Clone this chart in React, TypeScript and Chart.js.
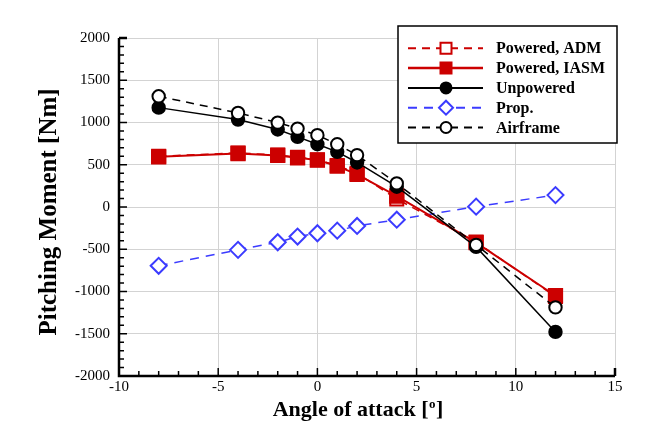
import React, { useEffect, useRef } from "react";
import { Chart, registerables } from "chart.js";

Chart.register(...registerables);

const aoa = [-8, -4, -2, -1, 0, 1, 2, 4, 8, 12];
const poweredADM = [600, 640, 615, 588, 560, 490, 400, 95, -415, -1060];
const poweredIASM = [594, 633, 610, 582, 555, 484, 386, 130, -421, -1050];
const unpowered = [1176, 1035, 917, 830, 743, 653, 527, 240, -472, -1478];
const prop = [-696, -507, -417, -350, -311, -280, -224, -150, 4, 141];
const airframe = [1310, 1113, 999, 928, 850, 743, 614, 280, -448, -1188];

const seriesNames = ["Powered, ADM", "Powered, IASM", "Unpowered", "Prop.", "Airframe"];
const xTitle = "Angle of attack [";
const xTitleSup = "o";
const xTitleEnd = "]";
const yTitle = "Pitching Moment [Nm]";

const RED = "#cc0000";
const BLUE = "#3b3bff";
const BLACK = "#000000";
const SERIF = "'Liberation Serif', 'Times New Roman', serif";

const pts = (ys: number[]) => aoa.map((x, i) => ({ x, y: ys[i] }));

type Sty = { color: string; dash: number[]; width: number; shape: string; fill: string; r: number };
const styles: Sty[] = [
  { color: RED, dash: [8, 6], width: 1.5, shape: "rect", fill: "#ffffff", r: 9.2 },
  { color: RED, dash: [], width: 2, shape: "rect", fill: RED, r: 9.4 },
  { color: BLACK, dash: [], width: 1.5, shape: "circle", fill: BLACK, r: 6.2 },
  { color: BLUE, dash: [9, 7], width: 1.5, shape: "rectRot", fill: "#ffffff", r: 8 },
  { color: BLACK, dash: [8, 6], width: 1.5, shape: "circle", fill: "#ffffff", r: 6.2 },
];

function drawMarker(ctx: CanvasRenderingContext2D, s: Sty, x: number, y: number, r: number) {
  ctx.save();
  ctx.setLineDash([]);
  ctx.beginPath();
  if (s.shape === "circle") {
    ctx.arc(x, y, r, 0, Math.PI * 2);
  } else if (s.shape === "rect") {
    ctx.rect(x - r, y - r, 2 * r, 2 * r);
  } else {
    ctx.moveTo(x - r, y);
    ctx.lineTo(x, y - r);
    ctx.lineTo(x + r, y);
    ctx.lineTo(x, y + r);
    ctx.closePath();
  }
  ctx.fillStyle = s.fill;
  ctx.fill();
  ctx.lineWidth = 2;
  ctx.strokeStyle = s.color;
  ctx.stroke();
  ctx.restore();
}

const customPlugin = {
  id: "custom",
  afterDraw(chart: any) {
    const ctx: CanvasRenderingContext2D = chart.ctx;
    const ca = chart.chartArea;
    const xs = chart.scales.x;
    const ys = chart.scales.y;
    ctx.save();
    // axes
    ctx.strokeStyle = "#000";
    ctx.lineWidth = 2.5;
    ctx.beginPath();
    ctx.moveTo(ca.left, ca.top);
    ctx.lineTo(ca.left, ca.bottom);
    ctx.lineTo(ca.right, ca.bottom);
    ctx.stroke();
    ctx.lineWidth = 1.5;
    ctx.beginPath();
    for (let v = -10; v <= 15; v += 1) {
      const px = xs.getPixelForValue(v);
      const len = v % 5 === 0 ? 8 : 5;
      ctx.moveTo(px, ca.bottom);
      ctx.lineTo(px, ca.bottom - len);
    }
    for (let v = -2000; v <= 2000; v += 100) {
      const py = ys.getPixelForValue(v);
      const len = v % 500 === 0 ? 8 : 5;
      ctx.moveTo(ca.left, py);
      ctx.lineTo(ca.left + len, py);
    }
    ctx.stroke();
    ctx.lineWidth = 2.5;
    ctx.beginPath();
    ctx.moveTo(ca.right, ca.bottom);
    ctx.lineTo(ca.right, ca.bottom - 8);
    ctx.moveTo(ca.left, ca.top);
    ctx.lineTo(ca.left + 8, ca.top);
    ctx.stroke();

    // titles
    ctx.fillStyle = "#000";
    ctx.font = `bold 22px ${SERIF}`;
    ctx.textBaseline = "alphabetic";
    ctx.textAlign = "left";
    const w1 = ctx.measureText(xTitle).width;
    ctx.font = `bold 13px ${SERIF}`;
    const w2 = ctx.measureText(xTitleSup).width;
    ctx.font = `bold 22px ${SERIF}`;
    const w3 = ctx.measureText(xTitleEnd).width;
    const total = w1 + w2 + 1 + w3;
    const cx = 358;
    const base = 416;
    let sx = cx - total / 2;
    ctx.fillText(xTitle, sx, base);
    sx += w1;
    ctx.font = `bold 13px ${SERIF}`;
    ctx.fillText(xTitleSup, sx + 0.5, base - 8);
    sx += w2 + 1;
    ctx.font = `bold 22px ${SERIF}`;
    ctx.fillText(xTitleEnd, sx, base);

    ctx.save();
    ctx.translate(50, 212);
    ctx.rotate(-Math.PI / 2);
    ctx.font = `bold 25px ${SERIF}`;
    ctx.textAlign = "center";
    ctx.textBaseline = "middle";
    ctx.fillText(yTitle, 0, 0);
    ctx.restore();

    // legend
    const bx = ca.right - 217;
    const by = ca.top - 12;
    const bw = 219;
    const bh = 117;
    ctx.fillStyle = "#fff";
    ctx.fillRect(bx, by, bw, bh);
    ctx.strokeStyle = "#000";
    ctx.lineWidth = 1.5;
    ctx.strokeRect(bx, by, bw, bh);
    seriesNames.forEach((name, i) => {
      const s = styles[i];
      const yy = by + 22.3 + i * 19.8;
      const x0 = bx + 10;
      const x1 = bx + 85;
      const mx = bx + 48;
      ctx.save();
      ctx.strokeStyle = s.color;
      ctx.lineWidth = s.width + 0.5;
      ctx.setLineDash(s.dash);
      ctx.beginPath();
      ctx.moveTo(x0, yy);
      ctx.lineTo(x1, yy);
      ctx.stroke();
      ctx.restore();
      const lr = s.shape === "rectRot" ? 7 : s.shape === "rect" ? 5.5 : 5.5;
      drawMarker(ctx, s, mx, yy, lr);
      ctx.fillStyle = "#000";
      ctx.font = `bold 16px ${SERIF}`;
      ctx.textAlign = "left";
      ctx.textBaseline = "middle";
      ctx.fillText(name, bx + 98, yy + 1);
    });
    ctx.restore();
  },
};

export default function App() {
  const ref = useRef<HTMLCanvasElement>(null);
  useEffect(() => {
    const all = [poweredADM, poweredIASM, unpowered, prop, airframe];
    const orders = [3, 2, 1, 4, 0];
    const datasets = all.map((ys, i) => {
      const s = styles[i];
      return {
        label: seriesNames[i],
        data: pts(ys),
        showLine: true,
        borderColor: s.color,
        borderWidth: s.width,
        borderDash: s.dash,
        pointStyle: s.shape,
        pointRadius: s.r,
        pointBackgroundColor: s.fill,
        pointBorderColor: s.color,
        pointBorderWidth: 2,
        order: orders[i],
        tension: 0,
      };
    });
    const chart = new Chart(ref.current as HTMLCanvasElement, {
      type: "scatter",
      data: { datasets } as any,
      plugins: [customPlugin],
      options: {
        animation: false,
        responsive: false,
        devicePixelRatio: 1,
        layout: { padding: { top: 38, right: 47, bottom: 0, left: 0 } },
        plugins: { legend: { display: false }, tooltip: { enabled: false } },
        scales: {
          x: {
            type: "linear",
            min: -10,
            max: 15,
            afterFit: (s: any) => {
              s.height = 45;
            },
            ticks: {
              stepSize: 5,
              padding: 2,
              color: "#000",
              font: { family: SERIF, size: 15 },
              callback: (v: any) => String(v),
            },
            grid: { color: "#d3d3d3", lineWidth: 1, drawTicks: false },
            border: { display: false },
          },
          y: {
            type: "linear",
            min: -2000,
            max: 2000,
            afterFit: (s: any) => {
              s.width = 119;
            },
            ticks: {
              stepSize: 500,
              padding: 9,
              color: "#000",
              font: { family: SERIF, size: 15 },
              callback: (v: any) => String(v),
            },
            grid: { color: "#d3d3d3", lineWidth: 1, drawTicks: false },
            border: { display: false },
          },
        },
      } as any,
    });
    return () => chart.destroy();
  }, []);
  return (
    <div style={{ position: "absolute", left: 0, top: 0, width: 662, height: 421, background: "#fff" }}>
      <canvas ref={ref} width={662} height={421} style={{ width: 662, height: 421 }} />
    </div>
  );
}
